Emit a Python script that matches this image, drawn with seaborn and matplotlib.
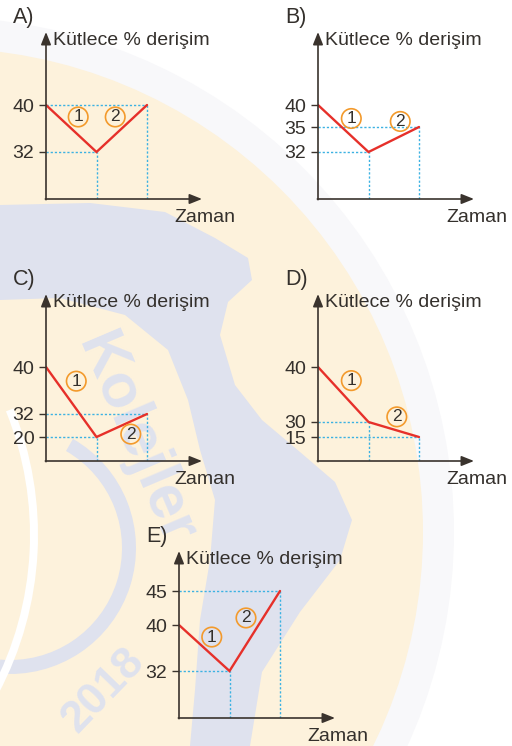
import numpy as np
import matplotlib
matplotlib.use("Agg")
import matplotlib.pyplot as plt
import seaborn as sns
from matplotlib.patches import Circle, Polygon, Wedge

# ---- data -------------------------------------------------------------
times = [0, 1, 2]
conc_A = [40, 32, 40]
conc_B = [40, 32, 35]
conc_C = [40, 20, 32]
conc_D = [40, 30, 15]
conc_E = [40, 32, 45]
panel_names = ["A)", "B)", "C)", "D)", "E)"]
y_title = "Kütlece % derişim"
x_title = "Zaman"
segment_labels = ["1", "2"]

# ---- layout (pixels) ------------------------------------------------
# origin of each diagram (x of y-axis, y of x-axis, measured from top-left)
origins = [(46, 199), (318, 199), (46, 461), (318, 461), (179, 718)]
AX_W, AX_H = 156, 167
PX_PER_T = 50.5
# schematic height (px above the time axis) of every labelled level
level_heights = [
    {40: 94, 32: 47},
    {40: 94, 35: 72, 32: 47},
    {40: 94, 32: 47, 20: 24},
    {40: 94, 30: 39, 15: 24},
    {45: 127, 40: 93, 32: 47},
]
# offsets (pt) of the circled segment numbers from the segment midpoints
label_offsets = [
    [(5, 8.3), (-4.7, 8.3)],
    [(5.8, 7.2), (4.7, 13)],
    [(3.6, 15), (6.5, -6.2)],
    [(5.8, 10), (2.2, 9.1)],
    [(5.4, 7.9), (-6.3, 9.4)],
]

RED = "#e6302a"
CYAN = "#3cb2e2"
ORANGE = "#f39a2c"
AXIS = "#3a332d"
TEXT = "#34302c"
BEIGE = "#fdf2dc"
PALE = "#f8f8fa"
BLUE = "#dfe2ee"

sns.set_theme(style="white")
plt.rcParams["font.family"] = ["Liberation Sans", "DejaVu Sans"]

FW, FH = 512, 746
fig = plt.figure(figsize=(FW / 100, FH / 100), dpi=100)
fig.patch.set_facecolor("white")

# ---- faint emblem in the background ---------------------------------
bg = fig.add_axes([0, 0, 1, 1], zorder=0)
bg.set_xlim(0, FW)
bg.set_ylim(FH, 0)
bg.axis("off")
bg.add_patch(Circle((-61, 532), 515, color=PALE, lw=0))
bg.add_patch(Circle((-61, 532), 484, color=BEIGE, lw=0))
band = [(0, 205), (90, 203), (165, 212), (215, 238), (248, 258), (252, 280),
        (228, 302), (220, 335), (235, 385), (262, 420), (300, 452),
        (335, 482), (352, 520), (340, 560), (300, 612), (262, 672),
        (250, 746), (190, 746), (195, 690), (200, 620), (210, 560),
        (215, 500), (200, 450), (188, 400), (168, 350), (125, 315),
        (60, 298), (0, 300)]
bg.add_patch(Polygon(band, closed=True, color=BLUE, lw=0))
bg.add_patch(Wedge((10, 548), 126, -60, 95, width=14, color=BLUE, lw=0))
bg.add_patch(Wedge((-300, 535), 338, -22, 28, width=8, color="white", lw=0))
bg.text(104, 690, "2018", rotation=46, fontsize=32, fontweight="bold",
        color=BLUE, ha="center", va="center")
bg.text(135, 440, "Kolejler", rotation=-67, fontsize=44, fontweight="bold",
        color=BLUE, ha="center", va="center")


def level_scale(levels):
    vals = np.array(sorted(levels), float)
    hts = np.array([levels[v] for v in sorted(levels)], float)
    v = np.r_[0.0, vals]
    h = np.r_[0.0, hts]

    def mapper(a, b):
        lo = (b[1] - b[0]) / (a[1] - a[0])
        hi = (b[-1] - b[-2]) / (a[-1] - a[-2])

        def f(x):
            x = np.asarray(x, float)
            out = np.interp(x, a, b)
            out = np.where(x > a[-1], b[-1] + (x - a[-1]) * hi, out)
            out = np.where(x < a[0], b[0] + (x - a[0]) * lo, out)
            return out
        return f

    return mapper(v, h), mapper(h, v)


series = [conc_A, conc_B, conc_C, conc_D, conc_E]

for k, conc in enumerate(series):
    x0, y0 = origins[k]
    ax = fig.add_axes([x0 / FW, (FH - y0) / FH, AX_W / FW, AX_H / FH], zorder=2)
    ax.patch.set_alpha(0)
    fwd, inv = level_scale(level_heights[k])
    ax.set_yscale("function", functions=(fwd, inv))

    # dotted guides to both axes for every point after the start
    for t, c in zip(times[1:], conc[1:]):
        ax.vlines(t, 0, c, colors=CYAN, lw=1.0, linestyles=(0, (1.6, 1.4)), zorder=2)
        ax.hlines(c, 0, t, colors=CYAN, lw=1.0, linestyles=(0, (1.6, 1.4)), zorder=2)

    sns.lineplot(x=times, y=conc, ax=ax, color=RED, linewidth=1.7,
                 zorder=4, solid_joinstyle="miter")

    ax.set_xlim(0, AX_W / PX_PER_T)
    ax.set_ylim(0, float(inv(AX_H)))
    ax.set_xlabel("")
    ax.set_ylabel("")
    for s in ax.spines.values():
        s.set_visible(False)

    ticks = sorted(set(conc))
    ax.set_yticks(ticks)
    ax.set_yticklabels([str(t) for t in ticks])
    ax.set_xticks([])
    ax.yaxis.set_minor_locator(matplotlib.ticker.NullLocator())
    ax.tick_params(axis="y", left=True, direction="out", length=5.4, width=1.0,
                   color=AXIS, pad=3.0, labelsize=14, labelcolor=TEXT)

    arrow = dict(arrowstyle="-|>,head_length=0.75,head_width=0.3", color=AXIS,
                 lw=1.2, shrinkA=0, shrinkB=0, mutation_scale=10)
    ax.annotate("", xy=(1, 0), xytext=(-0.004, 0), xycoords="axes fraction",
                arrowprops=arrow, zorder=5, annotation_clip=False)
    ax.annotate("", xy=(0, 1), xytext=(0, -0.004), xycoords="axes fraction",
                arrowprops=arrow, zorder=5, annotation_clip=False)

    ax.annotate(y_title, xy=(0, 1), xycoords="axes fraction", xytext=(5, -9.1),
                textcoords="offset points", ha="left", va="baseline",
                fontsize=14, color=TEXT)
    ax.annotate(x_title, xy=(1, 0), xycoords="axes fraction", xytext=(-20.2, -16.9),
                textcoords="offset points", ha="left", va="baseline",
                fontsize=14, color=TEXT)
    ax.annotate(panel_names[k], xy=(0, 1), xycoords="axes fraction",
                xytext=(-23.8, 6.8), textcoords="offset points", ha="left",
                va="baseline", fontsize=15.5, color=TEXT)

    # circled segment numbers
    for i in range(2):
        t_mid = (times[i] + times[i + 1]) / 2
        y_mid = float(inv((fwd(conc[i]) + fwd(conc[i + 1])) / 2))
        ax.annotate(segment_labels[i], xy=(t_mid, y_mid), xytext=label_offsets[k][i],
                    textcoords="offset points", ha="center", va="center",
                    fontsize=12.5, color=TEXT, zorder=6,
                    bbox=dict(boxstyle="circle,pad=0.13", fc="none", ec=ORANGE, lw=1.2))

fig.savefig("out.png", dpi=100, facecolor=fig.get_facecolor())
